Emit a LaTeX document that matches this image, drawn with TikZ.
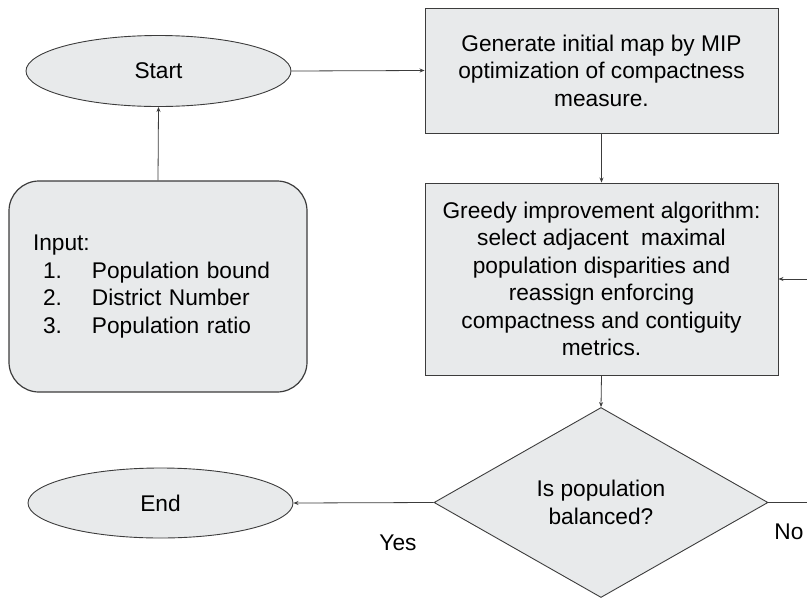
\documentclass[tikz,border=0pt]{standalone}
\usepackage{fontspec}
\setmainfont{Liberation Sans}
\usetikzlibrary{shapes.geometric,arrows.meta}
\definecolor{boxfill}{RGB}{232,234,235}
\definecolor{edge}{RGB}{60,60,60}
\begin{document}
\begin{tikzpicture}[x=1pt,y=-1pt,
  every node/.style={font=\fontsize{22.7}{27.5}\selectfont},
  term/.style={ellipse,draw=edge,fill=boxfill,line width=0.9pt,minimum width=265pt,minimum height=71pt,inner sep=0pt},
  procbox/.style={rectangle,draw=edge,fill=boxfill,line width=0.9pt,minimum width=353pt,inner sep=0pt,align=center},
  inbox/.style={rectangle,rounded corners=30pt,draw=edge,fill=boxfill,line width=1.2pt,minimum height=211pt,text width=250pt,inner xsep=24pt,align=left},
  decide/.style={diamond,draw=edge,fill=boxfill,line width=0.9pt,minimum width=334pt,minimum height=190pt,inner sep=0pt,align=center},
  conn/.style={draw=edge,line width=0.8pt,-{Stealth[length=5pt,width=4pt]}},
  lbl/.style={inner sep=0pt}]
\useasboundingbox (0,0) rectangle (807,598);
\clip (0,0) rectangle (807,598);
\node[term] (start) at (158.5,71) {Start};
\node[procbox,minimum height=125pt] (gen) at (601.5,70.5) {Generate initial map by MIP\\optimization of compactness\\measure.};
\node[procbox,minimum height=192pt] (greedy) at (601.5,279) {Greedy improvement algorithm:\\select adjacent\ \ maximal\\population disparities and\\reassign enforcing\\compactness and contiguity\\metrics.};
\node[inbox] (input) at (158,286.5) {Input:\\\makebox[59pt][l]{\hspace{10pt}1.}Population bound\\\makebox[59pt][l]{\hspace{10pt}2.}District Number\\\makebox[59pt][l]{\hspace{10pt}3.}Population ratio};
\node[decide] (bal) at (601,502.5) {Is population\\balanced?};
\node[term,minimum height=70pt] (end) at (160.5,503) {End};
\node[lbl] (yes) at (398,543) {Yes};
\node[lbl] (no) at (789,532) {No};
\draw[conn] (input.north) -- (start.south);
\draw[conn] (start.east) -- (gen.west);
\draw[conn] (gen.south) -- (greedy.north);
\draw[conn] (greedy.south) -- (bal.north);
\draw[conn] (bal.west) -- (end.east);
\draw[conn] (bal.east) -- (830,502.5) |- (greedy.east);
\end{tikzpicture}
\end{document}
